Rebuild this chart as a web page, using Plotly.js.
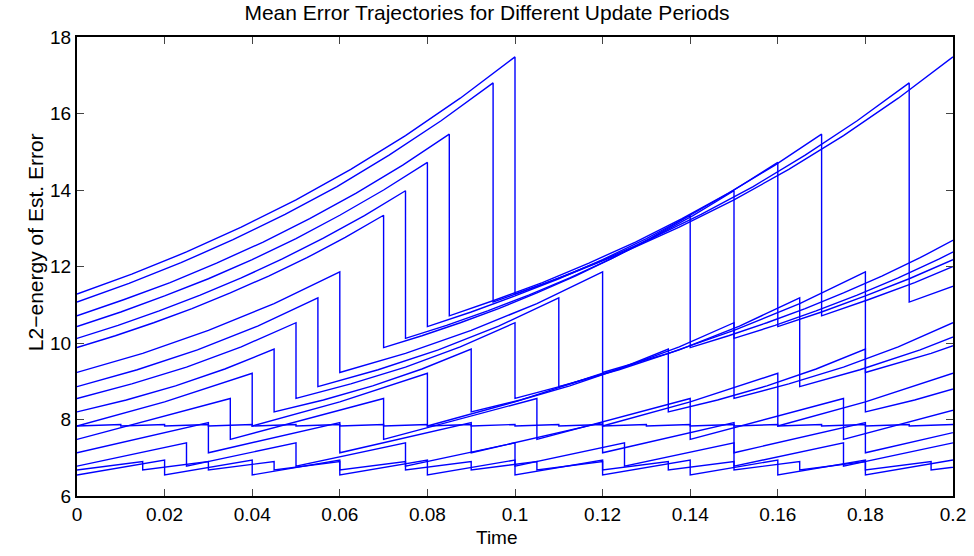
<!DOCTYPE html>
<html>
<head>
<meta charset="utf-8">
<script src="https://cdn.plot.ly/plotly-3.0.1.min.js"></script>
<style>
  html, body { margin: 0; padding: 0; background: #ffffff; }
  #chart { width: 974px; height: 556px; }
</style>
</head>
<body>
<div id="chart"></div>
<script>
// Update periods, one sawtooth trajectory each
const periods = [0.1, 0.095, 0.085, 0.08, 0.075, 0.07, 0.06, 0.055, 0.05,
                 0.045, 0.04, 0.035, 0.03, 0.025, 0.02, 0.015, 0.01];

// Mean error over one update period, sampled evenly from the reset value
// (start of the period) up to the value just before the next update.
const err_T100 = [11.28, 11.80, 12.38, 13.03, 13.74, 14.54, 15.42, 16.40, 17.48];
const err_T095 = [11.07, 11.56, 12.10, 12.70, 13.36, 14.09, 14.91, 15.81, 16.80];
const err_T085 = [10.71, 11.13, 11.58, 12.09, 12.64, 13.25, 13.92, 14.65, 15.46];
const err_T080 = [10.43, 10.81, 11.23, 11.68, 12.18, 12.73, 13.34, 14.00, 14.72];
const err_T075 = [10.12, 10.46, 10.84, 11.25, 11.70, 12.20, 12.74, 13.33, 13.98];
const err_T070 = [9.88, 10.19, 10.53, 10.90, 11.31, 11.75, 12.23, 12.76, 13.34];
const err_T060 = [9.23, 9.73, 10.33, 11.03, 11.86];
const err_T055 = [8.86, 9.30, 9.82, 10.44, 11.18];
const err_T050 = [8.55, 8.93, 9.37, 9.90, 10.53];
const err_T045 = [8.20, 8.51, 8.88, 9.32, 9.84];
const err_T040 = [7.83, 8.46, 9.21];
const err_T035 = [7.48, 8.55];
const err_T030 = [7.13, 7.92];
const err_T025 = [6.78, 7.39];
const err_T020 = [6.55, 6.94];
const err_T015 = [6.68, 6.90];
const err_T010 = [7.83, 7.87];

const errProfiles = [err_T100, err_T095, err_T085, err_T080, err_T075, err_T070,
                     err_T060, err_T055, err_T050, err_T045, err_T040, err_T035,
                     err_T030, err_T025, err_T020, err_T015, err_T010];

// Axis extents and tick labels
const timeRange = [0, 0.2];
const errRange = [6, 18];
const xTickVals = [0, 0.02, 0.04, 0.06, 0.08, 0.1, 0.12, 0.14, 0.16, 0.18, 0.2];
const xTickText = ["0", "0.02", "0.04", "0.06", "0.08", "0.1", "0.12", "0.14", "0.16", "0.18", "0.2"];
const yTickVals = [6, 8, 10, 12, 14, 16, 18];
const yTickText = ["6", "8", "10", "12", "14", "16", "18"];

// Repeat one period's profile until the end of the time axis; the shared
// x value at each update produces the vertical drop back to the reset level.
function sawtooth(T, prof) {
  const x = [], y = [];
  const n = prof.length;
  for (let k = 0; k * T < timeRange[1] - 1e-9; k++) {
    for (let j = 0; j < n; j++) {
      x.push(k * T + (j * T) / (n - 1));
      y.push(prof[j]);
    }
  }
  return { x, y };
}

const traces = periods.map((T, i) => {
  const s = sawtooth(T, errProfiles[i]);
  return {
    type: "scatter",
    mode: "lines",
    x: s.x,
    y: s.y,
    name: "T = " + T,
    line: { color: "rgb(0,0,255)", width: 1.4 },
    hoverinfo: "skip",
    showlegend: false
  };
});

const fontFam = "Liberation Sans, Arial, Helvetica, sans-serif";

const layout = {
  width: 974,
  height: 556,
  margin: { l: 77, r: 21, t: 37, b: 60 },
  paper_bgcolor: "#ffffff",
  plot_bgcolor: "#ffffff",
  font: { family: fontFam, color: "#000000" },
  title: {
    text: "Mean Error Trajectories for Different Update Periods",
    font: { family: fontFam, size: 21, color: "#000000" },
    x: 0.5, xref: "container", xanchor: "center",
    y: 0.99, yref: "container", yanchor: "top"
  },
  xaxis: {
    range: timeRange,
    tickmode: "array",
    tickvals: xTickVals,
    ticktext: xTickText,
    ticks: "inside",
    ticklen: 7,
    tickwidth: 1,
    tickcolor: "#444444",
    mirror: "ticks",
    showline: true,
    linecolor: "#000000",
    linewidth: 2,
    showgrid: false,
    zeroline: false,
    tickfont: { family: fontFam, size: 19, color: "#000000" }
  },
  yaxis: {
    range: errRange,
    tickmode: "array",
    tickvals: yTickVals,
    ticktext: yTickText,
    ticks: "inside",
    ticklen: 7,
    tickwidth: 1,
    tickcolor: "#444444",
    mirror: "ticks",
    showline: true,
    linecolor: "#000000",
    linewidth: 2,
    showgrid: false,
    zeroline: false,
    tickfont: { family: fontFam, size: 19, color: "#000000" }
  },
  annotations: [
    {
      text: "Time",
      xref: "paper", yref: "paper",
      x: 0.4795, y: -0.0915,
      xanchor: "center", yanchor: "middle",
      showarrow: false,
      font: { family: fontFam, size: 19, color: "#000000" }
    },
    {
      text: "L2\u2212energy of Est. Error",
      xref: "paper", yref: "paper",
      x: -0.048, y: 0.553,
      xanchor: "center", yanchor: "middle",
      textangle: -90,
      showarrow: false,
      font: { family: fontFam, size: 21, color: "#000000" }
    }
  ]
};

Plotly.newPlot("chart", traces, layout, { staticPlot: true, displayModeBar: false });
</script>
</body>
</html>
